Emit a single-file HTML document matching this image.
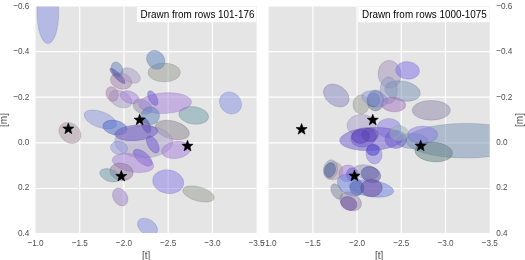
<!DOCTYPE html>
<html><head><meta charset="utf-8"><style>
html,body{margin:0;padding:0;background:#fff;}
svg{display:block;font-family:"Liberation Sans",sans-serif;}
svg{will-change:transform;}
</style></head><body>
<svg width="525" height="260" viewBox="0 0 525 260">
<clipPath id="cl"><rect x="35.5" y="6.5" width="221.10000000000002" height="226.4"/></clipPath>
<rect x="35.5" y="6.5" width="221.10000000000002" height="226.4" fill="#e5e5e5"/>
<line x1="79.72" y1="6.5" x2="79.72" y2="232.9" stroke="#fff" stroke-width="1.2"/>
<line x1="123.94" y1="6.5" x2="123.94" y2="232.9" stroke="#fff" stroke-width="1.2"/>
<line x1="168.16" y1="6.5" x2="168.16" y2="232.9" stroke="#fff" stroke-width="1.2"/>
<line x1="212.38" y1="6.5" x2="212.38" y2="232.9" stroke="#fff" stroke-width="1.2"/>
<line x1="35.5" y1="51.60" x2="256.6" y2="51.60" stroke="#fff" stroke-width="1.2"/>
<line x1="35.5" y1="97.20" x2="256.6" y2="97.20" stroke="#fff" stroke-width="1.2"/>
<line x1="35.5" y1="142.80" x2="256.6" y2="142.80" stroke="#fff" stroke-width="1.2"/>
<line x1="35.5" y1="188.50" x2="256.6" y2="188.50" stroke="#fff" stroke-width="1.2"/>
<g clip-path="url(#cl)">
<ellipse cx="47.9" cy="13" rx="10.8" ry="30.6" transform="rotate(0 47.9 13)" fill="#838fe3" fill-opacity="0.5" stroke="#626baa" stroke-opacity="0.35" stroke-width="0.7"/>
<ellipse cx="164.2" cy="72.5" rx="16.2" ry="9.4" transform="rotate(0 164.2 72.5)" fill="#979b93" fill-opacity="0.5" stroke="#71746e" stroke-opacity="0.35" stroke-width="0.7"/>
<ellipse cx="155.7" cy="59.8" rx="8.5" ry="10" transform="rotate(-40 155.7 59.8)" fill="#5b83bb" fill-opacity="0.5" stroke="#44628c" stroke-opacity="0.35" stroke-width="0.7"/>
<ellipse cx="121.2" cy="81" rx="11" ry="8" transform="rotate(15 121.2 81)" fill="#a57fab" fill-opacity="0.5" stroke="#7b5f80" stroke-opacity="0.35" stroke-width="0.7"/>
<ellipse cx="130.7" cy="75.5" rx="10.5" ry="6.5" transform="rotate(30 130.7 75.5)" fill="#a79bc7" fill-opacity="0.5" stroke="#7d7495" stroke-opacity="0.35" stroke-width="0.7"/>
<ellipse cx="117.1" cy="69.2" rx="5.4" ry="7.6" transform="rotate(-24 117.1 69.2)" fill="#6583bb" fill-opacity="0.5" stroke="#4b628c" stroke-opacity="0.35" stroke-width="0.7"/>
<ellipse cx="117.5" cy="75.9" rx="10.5" ry="2.8" transform="rotate(45 117.5 75.9)" fill="#5147a1" fill-opacity="0.5" stroke="#3c3578" stroke-opacity="0.35" stroke-width="0.7"/>
<ellipse cx="120.5" cy="99" rx="12" ry="8" transform="rotate(25 120.5 99)" fill="#a79bc7" fill-opacity="0.5" stroke="#7d7495" stroke-opacity="0.35" stroke-width="0.7"/>
<ellipse cx="112.1" cy="94" rx="6" ry="7.5" transform="rotate(-20 112.1 94)" fill="#a57fab" fill-opacity="0.5" stroke="#7b5f80" stroke-opacity="0.35" stroke-width="0.7"/>
<ellipse cx="129.7" cy="97.2" rx="10" ry="5.8" transform="rotate(20 129.7 97.2)" fill="#a37ddb" fill-opacity="0.5" stroke="#7a5da4" stroke-opacity="0.35" stroke-width="0.7"/>
<ellipse cx="142.6" cy="106.8" rx="10" ry="7" transform="rotate(25 142.6 106.8)" fill="#8d87ab" fill-opacity="0.5" stroke="#696580" stroke-opacity="0.35" stroke-width="0.7"/>
<ellipse cx="193.7" cy="115.4" rx="15" ry="8.7" transform="rotate(8 193.7 115.4)" fill="#6b9ba7" fill-opacity="0.5" stroke="#50747d" stroke-opacity="0.35" stroke-width="0.7"/>
<ellipse cx="165.1" cy="103.1" rx="26.5" ry="10.3" transform="rotate(-3 165.1 103.1)" fill="#a37ddb" fill-opacity="0.5" stroke="#7a5da4" stroke-opacity="0.35" stroke-width="0.7"/>
<ellipse cx="152.8" cy="98.1" rx="4" ry="8" transform="rotate(-28.5 152.8 98.1)" fill="#6b57cf" fill-opacity="0.5" stroke="#50419b" stroke-opacity="0.35" stroke-width="0.7"/>
<ellipse cx="230.5" cy="103" rx="10.3" ry="11.8" transform="rotate(-45 230.5 103)" fill="#838fe3" fill-opacity="0.5" stroke="#626baa" stroke-opacity="0.35" stroke-width="0.7"/>
<ellipse cx="69.9" cy="132.9" rx="12" ry="9.5" transform="rotate(40 69.9 132.9)" fill="#af97a5" fill-opacity="0.5" stroke="#83717b" stroke-opacity="0.35" stroke-width="0.7"/>
<ellipse cx="100.3" cy="119.5" rx="17" ry="8" transform="rotate(20 100.3 119.5)" fill="#8d97dd" fill-opacity="0.5" stroke="#6971a5" stroke-opacity="0.35" stroke-width="0.7"/>
<ellipse cx="115" cy="127.6" rx="12.3" ry="7.2" transform="rotate(12 115 127.6)" fill="#4765c9" fill-opacity="0.5" stroke="#354b96" stroke-opacity="0.35" stroke-width="0.7"/>
<ellipse cx="172.3" cy="130" rx="17.5" ry="9" transform="rotate(15 172.3 130)" fill="#89838f" fill-opacity="0.5" stroke="#66626b" stroke-opacity="0.35" stroke-width="0.7"/>
<ellipse cx="143.7" cy="141.8" rx="29" ry="16" transform="rotate(0 143.7 141.8)" fill="#a79bc7" fill-opacity="0.5" stroke="#7d7495" stroke-opacity="0.35" stroke-width="0.7"/>
<ellipse cx="150.4" cy="115.8" rx="9.2" ry="9" transform="rotate(0 150.4 115.8)" fill="#5b83bb" fill-opacity="0.5" stroke="#44628c" stroke-opacity="0.35" stroke-width="0.7"/>
<ellipse cx="145.7" cy="125" rx="4" ry="8.5" transform="rotate(-27 145.7 125)" fill="#5147a1" fill-opacity="0.5" stroke="#3c3578" stroke-opacity="0.35" stroke-width="0.7"/>
<ellipse cx="136.3" cy="132.7" rx="21.6" ry="7.8" transform="rotate(-5 136.3 132.7)" fill="#6b57c3" fill-opacity="0.5" stroke="#504192" stroke-opacity="0.35" stroke-width="0.7"/>
<ellipse cx="152.8" cy="144.4" rx="5" ry="9.5" transform="rotate(-30 152.8 144.4)" fill="#6b57cf" fill-opacity="0.5" stroke="#50419b" stroke-opacity="0.35" stroke-width="0.7"/>
<ellipse cx="119" cy="147.9" rx="8.6" ry="6.5" transform="rotate(10 119 147.9)" fill="#8d97dd" fill-opacity="0.5" stroke="#6971a5" stroke-opacity="0.35" stroke-width="0.7"/>
<ellipse cx="176.1" cy="150" rx="14.7" ry="8.4" transform="rotate(-8 176.1 150)" fill="#a37ddb" fill-opacity="0.5" stroke="#7a5da4" stroke-opacity="0.35" stroke-width="0.7"/>
<ellipse cx="142.8" cy="157.7" rx="11.5" ry="5.5" transform="rotate(40 142.8 157.7)" fill="#6b57cf" fill-opacity="0.5" stroke="#50419b" stroke-opacity="0.35" stroke-width="0.7"/>
<ellipse cx="133" cy="163" rx="21" ry="9" transform="rotate(10 133 163)" fill="#a37ddb" fill-opacity="0.5" stroke="#7a5da4" stroke-opacity="0.35" stroke-width="0.7"/>
<ellipse cx="121.5" cy="171.8" rx="11.8" ry="8.6" transform="rotate(10 121.5 171.8)" fill="#8f759d" fill-opacity="0.5" stroke="#6b5775" stroke-opacity="0.35" stroke-width="0.7"/>
<ellipse cx="109.8" cy="175.3" rx="10.5" ry="6" transform="rotate(20 109.8 175.3)" fill="#6b9ba7" fill-opacity="0.5" stroke="#50747d" stroke-opacity="0.35" stroke-width="0.7"/>
<ellipse cx="168.2" cy="181.7" rx="15.6" ry="11.8" transform="rotate(10 168.2 181.7)" fill="#8779e5" fill-opacity="0.5" stroke="#655aab" stroke-opacity="0.35" stroke-width="0.7"/>
<ellipse cx="198.5" cy="194" rx="16.2" ry="7.1" transform="rotate(15.4 198.5 194)" fill="#979b93" fill-opacity="0.5" stroke="#71746e" stroke-opacity="0.35" stroke-width="0.7"/>
<ellipse cx="120.2" cy="197" rx="7" ry="9.5" transform="rotate(-30 120.2 197)" fill="#9b7fc7" fill-opacity="0.5" stroke="#745f95" stroke-opacity="0.35" stroke-width="0.7"/>
<ellipse cx="147.5" cy="227" rx="11" ry="7.5" transform="rotate(35 147.5 227)" fill="#838fe3" fill-opacity="0.5" stroke="#626baa" stroke-opacity="0.35" stroke-width="0.7"/>
<polygon points="68.30,123.05 69.74,126.91 73.86,127.09 70.64,129.66 71.74,133.63 68.30,131.36 64.86,133.63 65.96,129.66 62.74,127.09 66.86,126.91" fill="#000" stroke="#000" stroke-width="0.6" stroke-linejoin="round"/>
<polygon points="139.65,114.15 141.09,118.01 145.21,118.19 141.99,120.76 143.09,124.73 139.65,122.46 136.21,124.73 137.31,120.76 134.09,118.19 138.21,118.01" fill="#000" stroke="#000" stroke-width="0.6" stroke-linejoin="round"/>
<polygon points="187.50,140.25 188.94,144.11 193.06,144.29 189.84,146.86 190.94,150.83 187.50,148.56 184.06,150.83 185.16,146.86 181.94,144.29 186.06,144.11" fill="#000" stroke="#000" stroke-width="0.6" stroke-linejoin="round"/>
<polygon points="121.30,170.45 122.74,174.31 126.86,174.49 123.64,177.06 124.74,181.03 121.30,178.76 117.86,181.03 118.96,177.06 115.74,174.49 119.86,174.31" fill="#000" stroke="#000" stroke-width="0.6" stroke-linejoin="round"/>
</g>
<rect x="136.9" y="7.0" width="119.3" height="15.2" fill="#fff"/>
<text transform="translate(140.60 17.85) scale(1 1.17)" font-size="9.9" fill="#000">Drawn from rows 101-176</text>
<text transform="translate(35.50 246.00) scale(1 1.17)" font-size="8.2" fill="#4d4d4d" text-anchor="middle">−1.0</text>
<text transform="translate(79.72 246.00) scale(1 1.17)" font-size="8.2" fill="#4d4d4d" text-anchor="middle">−1.5</text>
<text transform="translate(123.94 246.00) scale(1 1.17)" font-size="8.2" fill="#4d4d4d" text-anchor="middle">−2.0</text>
<text transform="translate(168.16 246.00) scale(1 1.17)" font-size="8.2" fill="#4d4d4d" text-anchor="middle">−2.5</text>
<text transform="translate(212.38 246.00) scale(1 1.17)" font-size="8.2" fill="#4d4d4d" text-anchor="middle">−3.0</text>
<text transform="translate(256.60 246.00) scale(1 1.17)" font-size="8.2" fill="#4d4d4d" text-anchor="middle">−3.5</text>
<text transform="translate(146.05 259.20) scale(1 1.17)" font-size="10" fill="#4d4d4d" text-anchor="middle">[t]</text>
<clipPath id="cr"><rect x="268.6" y="6.5" width="221.09999999999997" height="226.4"/></clipPath>
<rect x="268.6" y="6.5" width="221.09999999999997" height="226.4" fill="#e5e5e5"/>
<line x1="312.82" y1="6.5" x2="312.82" y2="232.9" stroke="#fff" stroke-width="1.2"/>
<line x1="357.04" y1="6.5" x2="357.04" y2="232.9" stroke="#fff" stroke-width="1.2"/>
<line x1="401.26" y1="6.5" x2="401.26" y2="232.9" stroke="#fff" stroke-width="1.2"/>
<line x1="445.48" y1="6.5" x2="445.48" y2="232.9" stroke="#fff" stroke-width="1.2"/>
<line x1="268.6" y1="51.60" x2="489.7" y2="51.60" stroke="#fff" stroke-width="1.2"/>
<line x1="268.6" y1="97.20" x2="489.7" y2="97.20" stroke="#fff" stroke-width="1.2"/>
<line x1="268.6" y1="142.80" x2="489.7" y2="142.80" stroke="#fff" stroke-width="1.2"/>
<line x1="268.6" y1="188.50" x2="489.7" y2="188.50" stroke="#fff" stroke-width="1.2"/>
<g clip-path="url(#cr)">
<ellipse cx="389.6" cy="74.3" rx="11.5" ry="14" transform="rotate(-8 389.6 74.3)" fill="#a193bb" fill-opacity="0.5" stroke="#786e8c" stroke-opacity="0.35" stroke-width="0.7"/>
<ellipse cx="407.6" cy="70.4" rx="11.85" ry="8.75" transform="rotate(5 407.6 70.4)" fill="#7f6fe7" fill-opacity="0.5" stroke="#5f53ad" stroke-opacity="0.35" stroke-width="0.7"/>
<ellipse cx="336.3" cy="95.5" rx="14" ry="10" transform="rotate(35 336.3 95.5)" fill="#8787bf" fill-opacity="0.5" stroke="#65658f" stroke-opacity="0.35" stroke-width="0.7"/>
<ellipse cx="402.5" cy="91" rx="18" ry="10" transform="rotate(10 402.5 91)" fill="#7791b3" fill-opacity="0.5" stroke="#596c86" stroke-opacity="0.35" stroke-width="0.7"/>
<ellipse cx="388.6" cy="90.3" rx="8.6" ry="13.4" transform="rotate(0 388.6 90.3)" fill="#8d97bf" fill-opacity="0.5" stroke="#69718f" stroke-opacity="0.35" stroke-width="0.7"/>
<ellipse cx="361.1" cy="104.5" rx="8.1" ry="9.65" transform="rotate(0 361.1 104.5)" fill="#979b93" fill-opacity="0.5" stroke="#71746e" stroke-opacity="0.35" stroke-width="0.7"/>
<ellipse cx="375.5" cy="100.5" rx="8.5" ry="10.5" transform="rotate(0 375.5 100.5)" fill="#5b6f93" fill-opacity="0.5" stroke="#44536e" stroke-opacity="0.35" stroke-width="0.7"/>
<ellipse cx="373.5" cy="100" rx="6.5" ry="7" transform="rotate(0 373.5 100)" fill="#475f97" fill-opacity="0.5" stroke="#354771" stroke-opacity="0.35" stroke-width="0.7"/>
<ellipse cx="374.7" cy="98.8" rx="13.3" ry="7.5" transform="rotate(15 374.7 98.8)" fill="#8d97dd" fill-opacity="0.5" stroke="#6971a5" stroke-opacity="0.35" stroke-width="0.7"/>
<ellipse cx="393.4" cy="104.5" rx="12.3" ry="7.3" transform="rotate(5 393.4 104.5)" fill="#a16fbb" fill-opacity="0.5" stroke="#78538c" stroke-opacity="0.35" stroke-width="0.7"/>
<ellipse cx="431.3" cy="110.3" rx="19.1" ry="9.85" transform="rotate(0 431.3 110.3)" fill="#8d87ab" fill-opacity="0.5" stroke="#696580" stroke-opacity="0.35" stroke-width="0.7"/>
<ellipse cx="466" cy="140.7" rx="60" ry="17.3" transform="rotate(0 466 140.7)" fill="#7791b3" fill-opacity="0.5" stroke="#596c86" stroke-opacity="0.35" stroke-width="0.7"/>
<ellipse cx="412" cy="141" rx="16" ry="7.5" transform="rotate(0 412 141)" fill="#7791b3" fill-opacity="0.5" stroke="#596c86" stroke-opacity="0.35" stroke-width="0.7"/>
<ellipse cx="422.6" cy="134.8" rx="15.1" ry="8.75" transform="rotate(0 422.6 134.8)" fill="#8779e5" fill-opacity="0.5" stroke="#655aab" stroke-opacity="0.35" stroke-width="0.7"/>
<ellipse cx="433.7" cy="152" rx="18.9" ry="9.8" transform="rotate(5 433.7 152)" fill="#617f81" fill-opacity="0.5" stroke="#485f60" stroke-opacity="0.35" stroke-width="0.7"/>
<ellipse cx="361.5" cy="125.4" rx="14.5" ry="10.9" transform="rotate(0 361.5 125.4)" fill="#a79bc7" fill-opacity="0.5" stroke="#7d7495" stroke-opacity="0.35" stroke-width="0.7"/>
<ellipse cx="388.9" cy="128.2" rx="12.1" ry="9.7" transform="rotate(0 388.9 128.2)" fill="#8779e5" fill-opacity="0.5" stroke="#655aab" stroke-opacity="0.35" stroke-width="0.7"/>
<ellipse cx="371.6" cy="139" rx="32" ry="11.5" transform="rotate(-3 371.6 139)" fill="#6b57cf" fill-opacity="0.5" stroke="#50419b" stroke-opacity="0.35" stroke-width="0.7"/>
<ellipse cx="363.6" cy="137.5" rx="12.8" ry="9.5" transform="rotate(-10 363.6 137.5)" fill="#6b57cf" fill-opacity="0.5" stroke="#50419b" stroke-opacity="0.35" stroke-width="0.7"/>
<ellipse cx="370" cy="134.8" rx="8.4" ry="6.8" transform="rotate(0 370 134.8)" fill="#5b3fb5" fill-opacity="0.5" stroke="#442f87" stroke-opacity="0.35" stroke-width="0.7"/>
<ellipse cx="360.6" cy="136.5" rx="9" ry="7" transform="rotate(0 360.6 136.5)" fill="#5b3fb5" fill-opacity="0.5" stroke="#442f87" stroke-opacity="0.35" stroke-width="0.7"/>
<ellipse cx="395.8" cy="139.3" rx="10.8" ry="9.1" transform="rotate(0 395.8 139.3)" fill="#6b57cf" fill-opacity="0.5" stroke="#50419b" stroke-opacity="0.35" stroke-width="0.7"/>
<ellipse cx="398.8" cy="133.4" rx="9.6" ry="7.7" transform="rotate(0 398.8 133.4)" fill="#97b5b5" fill-opacity="0.5" stroke="#718787" stroke-opacity="0.35" stroke-width="0.7"/>
<ellipse cx="374" cy="154" rx="8" ry="10" transform="rotate(-10 374 154)" fill="#8779e5" fill-opacity="0.5" stroke="#655aab" stroke-opacity="0.35" stroke-width="0.7"/>
<ellipse cx="373" cy="150" rx="6.5" ry="5.5" transform="rotate(0 373 150)" fill="#4339c3" fill-opacity="0.5" stroke="#322a92" stroke-opacity="0.35" stroke-width="0.7"/>
<ellipse cx="333.4" cy="170.8" rx="9.5" ry="9.1" transform="rotate(0 333.4 170.8)" fill="#b597a1" fill-opacity="0.5" stroke="#877178" stroke-opacity="0.35" stroke-width="0.7"/>
<ellipse cx="330.5" cy="169.5" rx="7" ry="9.7" transform="rotate(10 330.5 169.5)" fill="#8d97bb" fill-opacity="0.5" stroke="#69718c" stroke-opacity="0.35" stroke-width="0.7"/>
<ellipse cx="330" cy="170" rx="5.3" ry="7.4" transform="rotate(15 330 170)" fill="#475f97" fill-opacity="0.5" stroke="#354771" stroke-opacity="0.35" stroke-width="0.7"/>
<ellipse cx="348" cy="173.5" rx="9.1" ry="8.4" transform="rotate(0 348 173.5)" fill="#a37ddb" fill-opacity="0.5" stroke="#7a5da4" stroke-opacity="0.35" stroke-width="0.7"/>
<ellipse cx="352.4" cy="174.2" rx="6" ry="6.4" transform="rotate(0 352.4 174.2)" fill="#6b57cf" fill-opacity="0.5" stroke="#50419b" stroke-opacity="0.35" stroke-width="0.7"/>
<ellipse cx="350.5" cy="185.2" rx="14" ry="10" transform="rotate(30 350.5 185.2)" fill="#657fdf" fill-opacity="0.5" stroke="#4b5fa7" stroke-opacity="0.35" stroke-width="0.7"/>
<ellipse cx="366" cy="172" rx="13" ry="7" transform="rotate(10 366 172)" fill="#8d97bb" fill-opacity="0.5" stroke="#69718c" stroke-opacity="0.35" stroke-width="0.7"/>
<ellipse cx="370.9" cy="174.6" rx="10.1" ry="7.7" transform="rotate(20 370.9 174.6)" fill="#5147a1" fill-opacity="0.5" stroke="#3c3578" stroke-opacity="0.35" stroke-width="0.7"/>
<ellipse cx="371.5" cy="188.5" rx="22.3" ry="8.2" transform="rotate(8 371.5 188.5)" fill="#657fdf" fill-opacity="0.5" stroke="#4b5fa7" stroke-opacity="0.35" stroke-width="0.7"/>
<ellipse cx="357" cy="188" rx="7" ry="7" transform="rotate(0 357 188)" fill="#5f67ab" fill-opacity="0.5" stroke="#474d80" stroke-opacity="0.35" stroke-width="0.7"/>
<ellipse cx="371.5" cy="188" rx="10.8" ry="8.7" transform="rotate(0 371.5 188)" fill="#6b439b" fill-opacity="0.5" stroke="#503274" stroke-opacity="0.35" stroke-width="0.7"/>
<ellipse cx="336.7" cy="191.5" rx="5" ry="8.3" transform="rotate(-28 336.7 191.5)" fill="#7b839b" fill-opacity="0.5" stroke="#5c6274" stroke-opacity="0.35" stroke-width="0.7"/>
<ellipse cx="350.6" cy="201.5" rx="11.5" ry="8.5" transform="rotate(30 350.6 201.5)" fill="#8d87ab" fill-opacity="0.5" stroke="#696580" stroke-opacity="0.35" stroke-width="0.7"/>
<ellipse cx="348.8" cy="203.5" rx="8.5" ry="6.5" transform="rotate(25 348.8 203.5)" fill="#6b439b" fill-opacity="0.5" stroke="#503274" stroke-opacity="0.35" stroke-width="0.7"/>
<polygon points="301.60,123.55 303.04,127.41 307.16,127.59 303.94,130.16 305.04,134.13 301.60,131.86 298.16,134.13 299.26,130.16 296.04,127.59 300.16,127.41" fill="#000" stroke="#000" stroke-width="0.6" stroke-linejoin="round"/>
<polygon points="372.75,114.25 374.19,118.11 378.31,118.29 375.09,120.86 376.19,124.83 372.75,122.56 369.31,124.83 370.41,120.86 367.19,118.29 371.31,118.11" fill="#000" stroke="#000" stroke-width="0.6" stroke-linejoin="round"/>
<polygon points="420.70,140.15 422.14,144.01 426.26,144.19 423.04,146.76 424.14,150.73 420.70,148.46 417.26,150.73 418.36,146.76 415.14,144.19 419.26,144.01" fill="#000" stroke="#000" stroke-width="0.6" stroke-linejoin="round"/>
<polygon points="354.45,170.15 355.89,174.01 360.01,174.19 356.79,176.76 357.89,180.73 354.45,178.46 351.01,180.73 352.11,176.76 348.89,174.19 353.01,174.01" fill="#000" stroke="#000" stroke-width="0.6" stroke-linejoin="round"/>
</g>
<rect x="358.3" y="7.0" width="131.0" height="15.2" fill="#fff"/>
<text transform="translate(362.00 17.85) scale(1 1.17)" font-size="9.9" fill="#000">Drawn from rows 1000-1075</text>
<text transform="translate(268.60 246.00) scale(1 1.17)" font-size="8.2" fill="#4d4d4d" text-anchor="middle">−1.0</text>
<text transform="translate(312.82 246.00) scale(1 1.17)" font-size="8.2" fill="#4d4d4d" text-anchor="middle">−1.5</text>
<text transform="translate(357.04 246.00) scale(1 1.17)" font-size="8.2" fill="#4d4d4d" text-anchor="middle">−2.0</text>
<text transform="translate(401.26 246.00) scale(1 1.17)" font-size="8.2" fill="#4d4d4d" text-anchor="middle">−2.5</text>
<text transform="translate(445.48 246.00) scale(1 1.17)" font-size="8.2" fill="#4d4d4d" text-anchor="middle">−3.0</text>
<text transform="translate(489.70 246.00) scale(1 1.17)" font-size="8.2" fill="#4d4d4d" text-anchor="middle">−3.5</text>
<text transform="translate(379.15 259.20) scale(1 1.17)" font-size="10" fill="#4d4d4d" text-anchor="middle">[t]</text>
<text transform="translate(29.30 8.50) scale(1 1.17)" font-size="8.2" fill="#4d4d4d" text-anchor="end">−0.6</text>
<text transform="translate(496.20 8.50) scale(1 1.17)" font-size="8.2" fill="#4d4d4d">−0.6</text>
<text transform="translate(29.30 54.10) scale(1 1.17)" font-size="8.2" fill="#4d4d4d" text-anchor="end">−0.4</text>
<text transform="translate(496.20 54.10) scale(1 1.17)" font-size="8.2" fill="#4d4d4d">−0.4</text>
<text transform="translate(29.30 99.65) scale(1 1.17)" font-size="8.2" fill="#4d4d4d" text-anchor="end">−0.2</text>
<text transform="translate(496.20 99.65) scale(1 1.17)" font-size="8.2" fill="#4d4d4d">−0.2</text>
<text transform="translate(29.30 144.95) scale(1 1.17)" font-size="8.2" fill="#4d4d4d" text-anchor="end">0.0</text>
<text transform="translate(496.20 144.95) scale(1 1.17)" font-size="8.2" fill="#4d4d4d">0.0</text>
<text transform="translate(29.30 190.40) scale(1 1.17)" font-size="8.2" fill="#4d4d4d" text-anchor="end">0.2</text>
<text transform="translate(496.20 190.40) scale(1 1.17)" font-size="8.2" fill="#4d4d4d">0.2</text>
<text transform="translate(29.30 236.05) scale(1 1.17)" font-size="8.2" fill="#4d4d4d" text-anchor="end">0.4</text>
<text transform="translate(496.20 236.05) scale(1 1.17)" font-size="8.2" fill="#4d4d4d">0.4</text>
<text transform="translate(7.10 120.00) rotate(-90) scale(1 1.17)" font-size="10" fill="#4d4d4d" text-anchor="middle">[m]</text>
<text transform="translate(522.90 120.00) rotate(-90) scale(1 1.17)" font-size="10" fill="#4d4d4d" text-anchor="middle">[m]</text>
</svg>
</body></html>
